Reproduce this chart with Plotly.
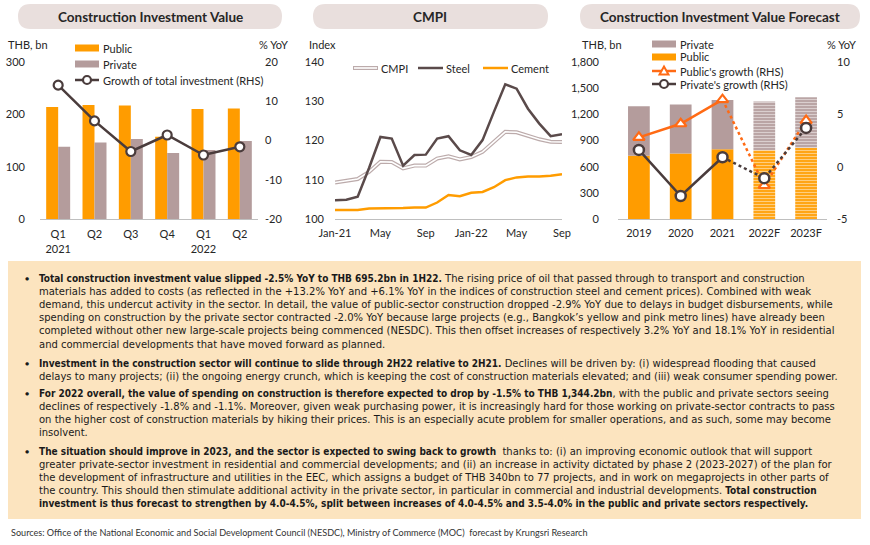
import plotly.graph_objects as go

W, H = 870, 545

# ---------------- data ----------------
# Chart 1: Construction Investment Value (quarterly)
quarter_keys = ["2021Q1", "2021Q2", "2021Q3", "2021Q4", "2022Q1", "2022Q2"]
quarter_labels = ["Q1<br>2021", "Q2", "Q3", "Q4", "Q1<br>2022", "Q2"]
public_q = [214, 218, 217, 157, 210, 211]
private_q = [138, 146, 153, 126, 132, 149]
growth_total = [14.1, 5.0, -2.8, 1.4, -3.7, -1.6]

# Chart 2: CMPI (monthly index)
months = ["2021-01", "2021-02", "2021-03", "2021-04", "2021-05", "2021-06", "2021-07",
          "2021-08", "2021-09", "2021-10", "2021-11", "2021-12", "2022-01", "2022-02",
          "2022-03", "2022-04", "2022-05", "2022-06", "2022-07", "2022-08", "2022-09"]
month_tick_labels = ["Jan-21", "May", "Sep", "Jan-22", "May", "Sep"]
cmpi = [109.3, 109.7, 110.2, 112.0, 114.6, 114.5, 112.9, 113.6, 113.6, 115.4, 116.0,
        115.2, 115.8, 117.1, 119.7, 122.2, 122.1, 121.1, 120.3, 119.7, 119.6]
steel = [104.8, 104.9, 105.7, 113.0, 120.9, 120.5, 113.6, 116.3, 116.4, 120.5, 121.1,
         117.5, 116.3, 120.1, 127.3, 134.3, 133.2, 128.1, 124.3, 121.1, 121.6]
cement = [102.3, 102.3, 102.3, 102.7, 102.7, 102.7, 102.8, 102.9, 102.9, 104.2, 106.1,
          105.8, 106.7, 106.9, 108.1, 109.9, 110.6, 110.8, 110.8, 111.0, 111.4]

# Chart 3: Construction Investment Value Forecast (annual)
years = ["2019", "2020", "2021", "2022F", "2023F"]
public_y = [725, 751, 801, 789, 816]
private_y = [568, 561, 564, 557, 580]
public_g = [2.8, 4.1, 6.4, -1.8, 4.4]
private_g = [1.6, -2.8, 0.9, -1.1, 3.7]
forecast_flags = [False, False, False, True, True]

# ---------------- styles ----------------
C_PUBLIC = "#FF9C00"
C_PRIVATE = "#B49C9C"
C_DARK = "#4A3C3C"
C_STEEL = "#5A4A4A"
C_PUBGROWTH = "#FF6A14"
C_CMPI = "#BCABAB"
C_AXIS = "#BFBFBF"
C_TEXT = "#262626"
FONT = "Lato"
BODY_FONT = "DejaVu Sans"
BOLD_SPAN = "<b style=\"font-family:'DejaVu Sans Condensed','DejaVu Sans'\">"


def fx(px):
    return px / W


def fy(py):
    return 1 - py / H


fig = go.Figure()

# ---------- chart 1 ----------
fig.add_trace(go.Bar(x=quarter_keys, y=public_q, marker_color=C_PUBLIC, name="Public",
                     xaxis="x", yaxis="y", showlegend=False))
fig.add_trace(go.Bar(x=quarter_keys, y=private_q, marker_color=C_PRIVATE, name="Private",
                     xaxis="x", yaxis="y", showlegend=False))
fig.add_trace(go.Scatter(x=quarter_keys, y=growth_total, mode="lines+markers",
                         line=dict(color=C_DARK, width=2.5),
                         marker=dict(symbol="circle", size=9, color="white",
                                     line=dict(color=C_DARK, width=2.2)),
                         xaxis="x", yaxis="y2", showlegend=False))

# ---------- chart 2 ----------
fig.add_trace(go.Scatter(x=months, y=cmpi, mode="lines", line=dict(color=C_CMPI, width=4),
                         xaxis="x2", yaxis="y3", showlegend=False))
fig.add_trace(go.Scatter(x=months, y=cmpi, mode="lines", line=dict(color="white", width=1.6),
                         xaxis="x2", yaxis="y3", showlegend=False, hoverinfo="skip"))
fig.add_trace(go.Scatter(x=months, y=steel, mode="lines", line=dict(color=C_STEEL, width=2.5),
                         xaxis="x2", yaxis="y3", showlegend=False))
fig.add_trace(go.Scatter(x=months, y=cement, mode="lines", line=dict(color=C_PUBLIC, width=2.5),
                         xaxis="x2", yaxis="y3", showlegend=False))

# ---------- chart 3 ----------
pat_shapes = ["-" if f else "" for f in forecast_flags]
fig.add_trace(go.Bar(x=years, y=public_y, width=0.52, offsetgroup="f",
                     marker=dict(color=C_PUBLIC,
                                 pattern=dict(shape=pat_shapes, fgcolor="white", fillmode="overlay",
                                              size=3, solidity=0.45)),
                     xaxis="x3", yaxis="y4", showlegend=False))
fig.add_trace(go.Bar(x=years, y=private_y, base=public_y, width=0.52, offsetgroup="f",
                     marker=dict(color=C_PRIVATE,
                                 pattern=dict(shape=pat_shapes, fgcolor="white", fillmode="overlay",
                                              size=3, solidity=0.45)),
                     xaxis="x3", yaxis="y4", showlegend=False))
n_act = forecast_flags.index(True)
# public growth
fig.add_trace(go.Scatter(x=years[n_act - 1:], y=public_g[n_act - 1:], mode="lines",
                         line=dict(color=C_PUBGROWTH, width=2.5, dash="dot"),
                         xaxis="x3", yaxis="y5", showlegend=False))
fig.add_trace(go.Scatter(x=years[:n_act], y=public_g[:n_act], mode="lines",
                         line=dict(color=C_PUBGROWTH, width=2.5),
                         xaxis="x3", yaxis="y5", showlegend=False))
fig.add_trace(go.Scatter(x=years, y=public_g, mode="markers",
                         marker=dict(symbol="triangle-up", size=10, color="white",
                                     line=dict(color=C_PUBGROWTH, width=2.2)),
                         xaxis="x3", yaxis="y5", showlegend=False))
# private growth
fig.add_trace(go.Scatter(x=years[n_act - 1:], y=private_g[n_act - 1:], mode="lines",
                         line=dict(color=C_DARK, width=2.5, dash="dot"),
                         xaxis="x3", yaxis="y5", showlegend=False))
fig.add_trace(go.Scatter(x=years[:n_act], y=private_g[:n_act], mode="lines",
                         line=dict(color=C_DARK, width=2.5),
                         xaxis="x3", yaxis="y5", showlegend=False))
fig.add_trace(go.Scatter(x=years, y=private_g, mode="markers",
                         marker=dict(symbol="circle", size=10, color="white",
                                     line=dict(color=C_DARK, width=2.5)),
                         xaxis="x3", yaxis="y5", showlegend=False))

tickfont = dict(family=FONT, size=11, color=C_TEXT)
ydom = [fy(219), fy(62)]

axis_common = dict(showgrid=False, zeroline=False, ticks="", tickfont=tickfont, fixedrange=True,
                   automargin=False)

fig.update_layout(
    template="none",
    width=W, height=H, margin=dict(l=0, r=0, t=0, b=0, pad=0, autoexpand=False),
    paper_bgcolor="white", plot_bgcolor="rgba(0,0,0,0)",
    barmode="group", bargap=0.34, bargroupgap=0,
    showlegend=False,
    font=dict(family=FONT, color=C_TEXT),
    xaxis=dict(domain=[fx(40), fx(258)], anchor="y", type="category",
               tickvals=quarter_keys, ticktext=quarter_labels, ticklabelstandoff=5,
               showline=True, linecolor=C_AXIS, linewidth=1, **axis_common),
    yaxis=dict(domain=ydom, anchor="x", range=[0, 300], tickvals=[0, 100, 200, 300],
               ticklabelstandoff=14, showline=False, **axis_common),
    yaxis2=dict(domain=ydom, anchor="x", overlaying="y", side="right", range=[-20, 20],
                tickvals=[-20, -10, 0, 10, 20], ticktext=["-20", "-10", "0", "10", "20"],
                ticklabelstandoff=6, showline=False, **axis_common),
    xaxis2=dict(domain=[fx(335), fx(562)], anchor="y3", type="category",
                tickvals=[months[i] for i in (0, 4, 8, 12, 16, 20)], ticktext=month_tick_labels,
                ticklabelstandoff=4,
                showline=True, linecolor=C_AXIS, linewidth=1, **axis_common),
    yaxis3=dict(domain=ydom, anchor="x2", range=[100, 140], tickvals=[100, 110, 120, 130, 140],
                ticklabelstandoff=10, showline=False, **axis_common),
    xaxis3=dict(domain=[fx(618), fx(827)], anchor="y4", type="category", ticklabelstandoff=4,
                showline=True, linecolor=C_AXIS, linewidth=1, **axis_common),
    yaxis4=dict(domain=ydom, anchor="x3", range=[0, 1800], tickvals=[0, 300, 600, 900, 1200, 1500, 1800],
                tickformat=",", ticklabelstandoff=18, showline=False, **axis_common),
    yaxis5=dict(domain=ydom, anchor="x3", overlaying="y4", side="right", range=[-5, 10],
                tickvals=[-5, 0, 5, 10], ticktext=["-5", "0", "5", "10"],
                ticklabelstandoff=9, showline=False, **axis_common),
)

shapes = []
annotations = []


def pill(x0, y0, x1, y1, color):
    r = (y1 - y0) / 2
    pts = [
        f"M{fx(x0 + r)},{fy(y0)}", f"L{fx(x1 - r)},{fy(y0)}",
        f"Q{fx(x1)},{fy(y0)} {fx(x1)},{fy(y0 + r)}",
        f"Q{fx(x1)},{fy(y1)} {fx(x1 - r)},{fy(y1)}",
        f"L{fx(x0 + r)},{fy(y1)}",
        f"Q{fx(x0)},{fy(y1)} {fx(x0)},{fy(y0 + r)}",
        f"Q{fx(x0)},{fy(y0)} {fx(x0 + r)},{fy(y0)}", "Z",
    ]
    shapes.append(dict(type="path", path=" ".join(pts), xref="paper", yref="paper",
                       fillcolor=color, line=dict(width=0), layer="below"))


def text(px, py, s, size=11, anchor="left", bold=False, color=C_TEXT, family=FONT, pad=1):
    annotations.append(dict(x=fx(px), y=fy(py), xref="paper", yref="paper", showarrow=False,
                            xanchor=anchor, yanchor="middle", text=(f"<b>{s}</b>" if bold else s),
                            borderpad=pad,
                            font=dict(family=family, size=size, color=color)))


# panel titles
TITLE_BG = "#E9DFDD"
pill(18, 4, 282, 29, TITLE_BG)
pill(313, 4, 548, 29, TITLE_BG)
pill(580, 4, 860, 29, TITLE_BG)
text(150, 17, "Construction Investment Value", size=13.5, anchor="center", bold=True)
text(430, 17, "CMPI", size=13.5, anchor="center", bold=True)
text(720, 17, "Construction Investment Value Forecast", size=13.5, anchor="center", bold=True)

# axis unit labels
text(6, 45, "THB, bn")
text(290, 45, "% YoY", anchor="right")
text(307, 45, "Index")
text(580, 45, "THB, bn")
text(858, 45, "% YoY", anchor="right")


def rect_sw(x0, x1, yc, color, h=7):
    shapes.append(dict(type="rect", xref="paper", yref="paper", x0=fx(x0), x1=fx(x1),
                       y0=fy(yc + h / 2), y1=fy(yc - h / 2), fillcolor=color, line=dict(width=0)))


def line_sw(x0, x1, yc, color, width=2.5):
    shapes.append(dict(type="line", xref="paper", yref="paper", x0=fx(x0), x1=fx(x1),
                       y0=fy(yc), y1=fy(yc), line=dict(color=color, width=width)))


def circle_sw(xc, yc, color, r=4):
    shapes.append(dict(type="circle", xref="paper", yref="paper", xsizemode="pixel", ysizemode="pixel",
                       xanchor=fx(xc), yanchor=fy(yc), x0=-r, x1=r, y0=-r, y1=r,
                       fillcolor="white", line=dict(color=color, width=2.2)))


def tri_sw(xc, yc, color, r=4.5):
    shapes.append(dict(type="path", xref="paper", yref="paper", xsizemode="pixel", ysizemode="pixel",
                       xanchor=fx(xc), yanchor=fy(yc),
                       path=f"M{-r},{-r * 0.8} L{r},{-r * 0.8} L0,{r} Z",
                       fillcolor="white", line=dict(color=color, width=2)))


# legend chart 1
rect_sw(75, 99, 48, C_PUBLIC)
text(101, 48, "Public")
rect_sw(75, 99, 64, C_PRIVATE)
text(101, 64, "Private")
line_sw(75, 99, 80, C_DARK)
circle_sw(87, 80, C_DARK)
text(101, 80, "Growth of total investment (RHS)")

# legend chart 2
line_sw(353, 378, 68, C_CMPI, width=4)
line_sw(354, 377, 68, "white", width=1.6)
text(379, 68, "CMPI")
line_sw(418, 443, 68, C_STEEL)
text(444, 68, "Steel")
line_sw(483, 508, 68, C_PUBLIC)
text(509, 68, "Cement")

# legend chart 3
rect_sw(652, 676, 44, C_PRIVATE)
text(678, 44, "Private")
rect_sw(652, 676, 57, C_PUBLIC)
text(678, 57, "Public")
line_sw(652, 676, 71, C_PUBGROWTH)
tri_sw(664, 71, C_PUBGROWTH)
text(678, 71, "Public's growth (RHS)")
line_sw(652, 676, 84, C_DARK)
circle_sw(664, 84, C_DARK)
text(678, 84, "Private's growth (RHS)")

# text box
shapes.append(dict(type="rect", xref="paper", yref="paper", x0=fx(8), x1=fx(861), y0=fy(519), y1=fy(261),
                   fillcolor="#FCE4BF", line=dict(width=0), layer="below"))

bullets = [
    [
        "<b>Total construction investment value slipped -2.5% YoY to THB 695.2bn in 1H22.</b> The rising price of oil that passed through to transport and construction",
        "materials has added to costs (as reflected in the +13.2% YoY and +6.1% YoY in the indices of construction steel and cement prices). Combined with weak",
        "demand, this undercut activity in the sector. In detail, the value of public-sector construction dropped -2.9% YoY due to delays in budget disbursements, while",
        "spending on construction by the private sector contracted -2.0% YoY because large projects (e.g., Bangkok’s yellow and pink metro lines) have already been",
        "completed without other new large-scale projects being commenced (NESDC). This then offset increases of respectively 3.2% YoY and 18.1% YoY in residential",
        "and commercial developments that have moved forward as planned.",
    ],
    [
        "<b>Investment in the construction sector will continue to slide through 2H22 relative to 2H21.</b> Declines will be driven by: (i) widespread flooding that caused",
        "delays to many projects; (ii) the ongoing energy crunch, which is keeping the cost of construction materials elevated; and (iii) weak consumer spending power.",
    ],
    [
        "<b>For 2022 overall, the value of spending on construction is therefore expected to drop by -1.5% to THB 1,344.2bn</b>, with the public and private sectors seeing",
        "declines of respectively -1.8% and -1.1%. Moreover, given weak purchasing power, it is increasingly hard for those working on private-sector contracts to pass",
        "on the higher cost of construction materials by hiking their prices. This is an especially acute problem for smaller operations, and as such, some may become",
        "insolvent.",
    ],
    [
        "<b>The situation should improve in 2023, and the sector is expected to swing back to growth</b>  thanks to: (i) an improving economic outlook that will support",
        "greater private-sector investment in residential and commercial developments; and (ii) an increase in activity dictated by phase 2 (2023-2027) of the plan for",
        "the development of infrastructure and utilities in the EEC, which assigns a budget of THB 340bn to 77 projects, and in work on megaprojects in other parts of",
        "the country. This should then stimulate additional activity in the private sector, in particular in commercial and industrial developments. <b>Total construction</b>",
        "<b>investment is thus forecast to strengthen by 4.0-4.5%, split between increases of 4.0-4.5% and 3.5-4.0% in the public and private sectors respectively.</b>",
    ],
]
bullet_tops = [278, 363, 393, 451]
LH = 13.2
for top, lines in zip(bullet_tops, bullets):
    text(27, top, "●", size=7, anchor="center", color="#1A1A1A")
    for i, ln in enumerate(lines):
        text(38, top + i * LH, ln.replace("<b>", BOLD_SPAN), size=10, color="#1A1A1A",
             family=BODY_FONT, pad=0)

text(9, 532, "Sources: Office of the National Economic and Social Development Council (NESDC), Ministry of Commerce (MOC)  forecast by Krungsri Research",
     size=9.1, color="#333333")

fig.update_layout(shapes=shapes, annotations=annotations)
fig.write_html("out.html", config={"displayModeBar": False},
               post_script="document.body.style.margin='0px';document.body.style.overflow='hidden';")
